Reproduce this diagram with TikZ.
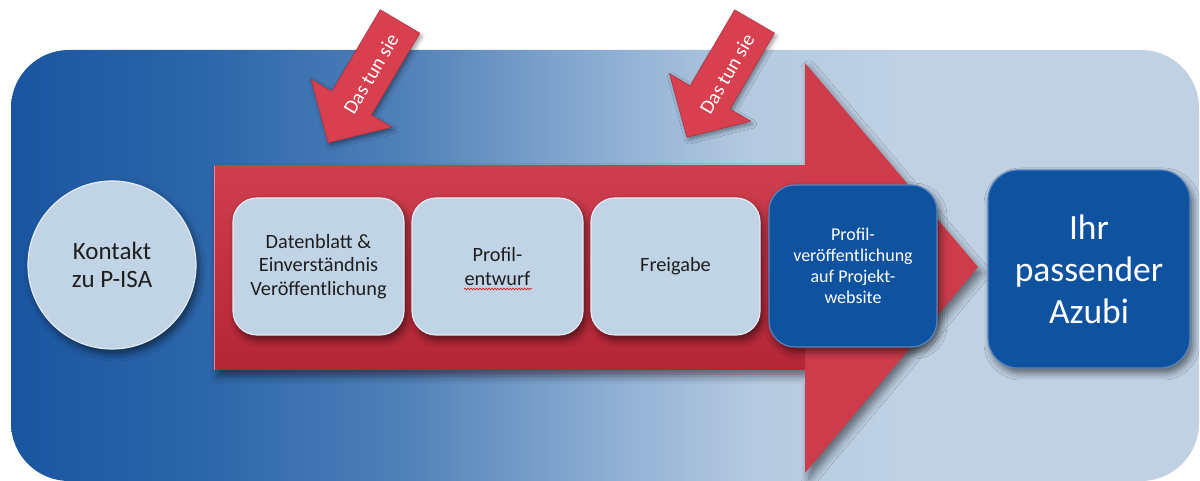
\documentclass[tikz,border=0pt]{standalone}
\usepackage{fontspec}
\setmainfont{Carlito}
\usetikzlibrary{shadows.blur,decorations.pathmorphing}
\definecolor{bgA}{HTML}{1A55A0}
\definecolor{bgB}{HTML}{2B66AA}
\definecolor{bgC}{HTML}{4F80B8}
\definecolor{bgD}{HTML}{8CADD2}
\definecolor{bgE}{HTML}{B6CBE1}
\definecolor{bgF}{HTML}{BFD1E3}
\definecolor{lightbox}{HTML}{C1D4E6}
\definecolor{bluebox}{HTML}{0F52A0}
\definecolor{redA}{HTML}{CF3E4E}
\definecolor{redB}{HTML}{B42536}
\definecolor{redHead}{HTML}{CE3C4C}
\definecolor{smallred}{HTML}{D8404F}
\definecolor{txt}{HTML}{1E1E1E}
\pgfdeclarehorizontalshading{bgshade}{100bp}{color(0bp)=(bgA); color(25bp)=(bgA); color(33bp)=(bgB); color(41.4bp)=(bgC); color(49.8bp)=(bgD); color(56.5bp)=(bgE); color(62.4bp)=(bgF); color(75bp)=(bgF); color(100bp)=(bgF)}
\tikzset{
  lbox/.style={draw=white!55!lightbox, line width=1.2pt, fill=lightbox, rounded corners=24pt,
    blur shadow={shadow xshift=3pt, shadow yshift=-5pt, shadow blur radius=7pt, shadow opacity=55},
    text=txt, align=center, font=\fontsize{20.3}{23.5}\selectfont, inner sep=0pt},
  bbox/.style={draw=bluebox!70!white, line width=1.2pt, fill=bluebox, rounded corners=26pt,
    blur shadow={shadow xshift=3pt, shadow yshift=-5pt, shadow blur radius=7pt, shadow opacity=55},
    text=white, align=center, inner sep=0pt},
  smallarrow/.style={fill=smallred, draw=smallred!80!black, line width=0.6pt,
    blur shadow={shadow xshift=2pt, shadow yshift=-3pt, shadow blur radius=4pt, shadow opacity=40}},
  arrowlabel/.style={text=white, font=\fontsize{20}{22}\selectfont, inner sep=0pt},
}
\begin{document}
\begin{tikzpicture}[x=1pt,y=1pt]
\useasboundingbox (0,0) rectangle (1200,481);
% background
\shade[shading=bgshade, rounded corners=58pt] (11,0) rectangle (1199,431);
% small arrow 1
\begin{scope}[shift={(400,459.5)}, rotate=239.35]
\path[smallarrow] (0,23) -- (95,23) -- (95,47) -- (141,0) -- (95,-47) -- (95,-23) -- (0,-23) -- cycle;
\end{scope}
\node[arrowlabel, rotate=59.35] (l1) at (371,407) {Das tun sie};
% small arrow 2
\begin{scope}[shift={(754.5,459.5)}, rotate=239.7]
\path[smallarrow] (0,23) -- (88,23) -- (88,47) -- (134,0) -- (88,-47) -- (88,-23) -- (0,-23) -- cycle;
\end{scope}
\node[arrowlabel, rotate=59.7] (l2) at (727,407) {Das tun sie};
% big red arrow
\path[fill=redHead, blur shadow={shadow xshift=4pt, shadow yshift=-6pt, shadow blur radius=8pt, shadow opacity=50}]
  (214,111) -- (214,315) -- (805,315) -- (805,418) -- (978,214) -- (805,8) -- (805,111) -- cycle;
\shade[top color=redA, bottom color=redB] (214,111) rectangle (805,315);
\draw[white!40!redHead, line width=1pt] (214,111) -- (214,315);
% circle
\node[circle, minimum size=168pt, fill=lightbox, draw=white!55!lightbox, line width=1.2pt,
  blur shadow={shadow xshift=3pt, shadow yshift=-5pt, shadow blur radius=7pt, shadow opacity=55},
  text=txt, align=center, font=\fontsize{25}{28.5}\selectfont, inner sep=0pt]
  (c0) at (112,216) {Kontakt\\zu P-ISA};
% light boxes
\node[lbox, minimum width=171pt, minimum height=137pt] (b1) at (318.5,214.5) {Datenblatt \&\\Einverständnis\\Veröffentlichung};
\node[lbox, minimum width=171pt, minimum height=137pt] (b2) at (497.5,214.5) {Profil-\\entwurf};
\node[lbox, minimum width=169pt, minimum height=137pt] (b3) at (675.5,214.5) {Freigabe};
\draw[red!85!black, line width=0.5pt, decorate, decoration={snake, amplitude=0.9pt, segment length=3pt}]
  (464,192) -- (532,192);
% blue boxes
\node[bbox, minimum width=168pt, minimum height=162pt, font=\fontsize{18}{21}\selectfont] (b4) at (853,215) {Profil-\\veröffentlichung\\auf Projekt-\\website};
\node[bbox, minimum width=202pt, minimum height=198pt, rounded corners=30pt, font=\fontsize{35.5}{42}\selectfont] (b5) at (1089,212) {Ihr\\passender\\Azubi};
\end{tikzpicture}
\end{document}
